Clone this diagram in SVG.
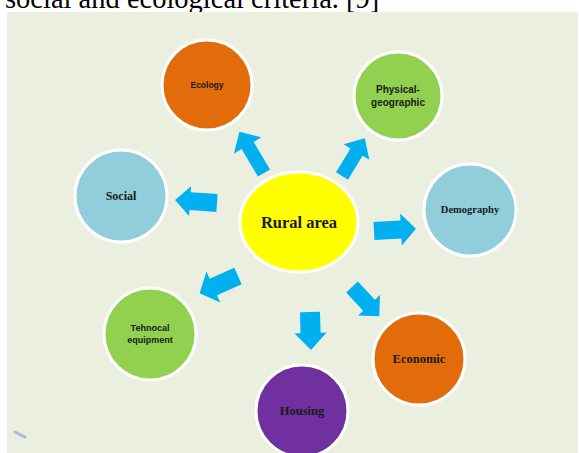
<svg xmlns="http://www.w3.org/2000/svg" width="579" height="453" viewBox="0 0 579 453">
<style>
.bub{stroke:#ffffff;stroke-width:3}
.arr{fill:#00B0F0}
.serif{font-family:"Liberation Serif","Times New Roman",serif;font-weight:bold;fill:#1a1a1a;text-anchor:middle}
.sans{font-family:"Liberation Sans",Arial,sans-serif;font-weight:bold;fill:#1a1a1a;text-anchor:middle}
</style>
<rect x="0" y="0" width="579" height="453" fill="#ffffff"/>
<text x="5" y="8" font-family="Liberation Serif, Times New Roman, serif" font-size="28.5" fill="#000000">social and ecological criteria. [9]</text>
<rect x="7" y="12" width="571" height="441" fill="#EBEFDF"/>
<line x1="15" y1="432" x2="25" y2="437" stroke="#A9B9DF" stroke-width="3" stroke-linecap="round"/>
<g id="connectors">
<path class="arr" transform="translate(264,173) rotate(-120.8)" d="M0,-7 H32 V-16 L48,0 L32,16 V7 H0 Z"/>
<path class="arr" transform="translate(342,176) rotate(-58.8)" d="M0,-7 H28 V-15 L44,0 L28,15 V7 H0 Z"/>
<path class="arr" transform="translate(217,203) rotate(184)" d="M0,-9 H27 V-15 L42,0 L27,15 V9 H0 Z"/>
<path class="arr" transform="translate(374,231) rotate(-3)" d="M0,-9 H27 V-16 L42,0 L27,16 V9 H0 Z"/>
<path class="arr" transform="translate(238,276) rotate(155.9)" d="M0,-9 H27 V-17 L42,0 L27,17 V9 H0 Z"/>
<path class="arr" transform="translate(310,312) rotate(88.5)" d="M0,-10 H21 V-16 L38,0 L21,16 V10 H0 Z"/>
<path class="arr" transform="translate(352,287) rotate(47)" d="M0,-8 H25 V-15 L40,0 L25,15 V8 H0 Z"/>
</g>
<g id="rural">
<ellipse class="bub" cx="299" cy="222" rx="59" ry="50" fill="#FFFF00"/>
<text class="serif" x="299" y="228" font-size="16.5">Rural area</text>
</g>
<g id="ecology">
<circle class="bub" cx="207" cy="85" r="45" fill="#E36C0A"/>
<text class="sans" x="207" y="88" font-size="8.5">Ecology</text>
</g>
<g id="physical">
<circle class="bub" cx="398" cy="96" r="44" fill="#92D050"/>
<text class="sans" x="398" y="93" font-size="10">Physical-</text>
<text class="sans" x="398" y="106" font-size="10">geographic</text>
</g>
<g id="social">
<circle class="bub" cx="121" cy="196" r="46" fill="#92CDDC"/>
<text class="serif" x="121" y="200" font-size="12">Social</text>
</g>
<g id="demography">
<circle class="bub" cx="470" cy="210" r="46" fill="#92CDDC"/>
<text class="serif" x="470" y="213" font-size="10.5">Demography</text>
</g>
<g id="tehnocal">
<circle class="bub" cx="150" cy="334" r="46" fill="#92D050"/>
<text class="sans" x="150" y="331" font-size="9">Tehnocal</text>
<text class="sans" x="150" y="343" font-size="9">equipment</text>
</g>
<g id="housing">
<circle class="bub" cx="302" cy="411" r="46" fill="#7030A0"/>
<text class="serif" x="302" y="415" font-size="12.5">Housing</text>
</g>
<g id="economic">
<circle class="bub" cx="419" cy="359" r="46" fill="#E36C0A"/>
<text class="serif" x="419" y="363" font-size="12.5">Economic</text>
</g>
</svg>
